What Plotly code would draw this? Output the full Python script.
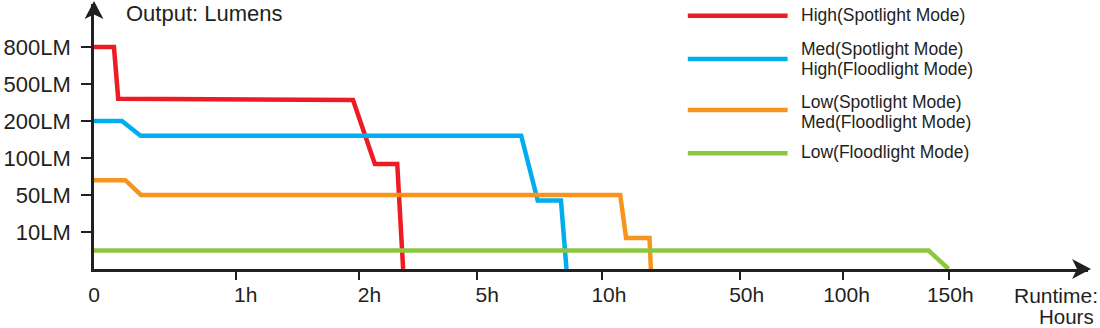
import numpy as np
import plotly.graph_objects as go

# ---------------- data ----------------
tick_hours = [0, 1, 2, 5, 10, 50, 100, 150]
tick_labels = ["0", "1h", "2h", "5h", "10h", "50h", "100h", "150h"]
lumen_ticks = [0, 10, 50, 100, 200, 500, 800]
lumen_labels = ["", "10LM", "50LM", "100LM", "200LM", "500LM", "800LM"]

series_names = [
    "High(Spotlight Mode)",
    "Med(Spotlight Mode)<br>High(Floodlight Mode)",
    "Low(Spotlight Mode)<br>Med(Floodlight Mode)",
    "Low(Floodlight Mode)",
]
high_hours = [0, 0.14, 0.17, 1.95, 2.4, 2.97, 3.12]
high_lumens = [800, 800, 380, 370, 92, 92, 0]
med_hours = [0, 0.196, 0.327, 6.77, 7.43, 8.36, 8.58]
med_lumens = [200, 200, 160, 160, 44, 44, 0]
low_hours = [0, 0.22, 0.33, 15.3, 17.0, 23.8, 24.2]
low_lumens = [70, 70, 50, 50, 8.4, 8.4, 0]
flood_low_hours = [0, 140.5, 150]
flood_low_lumens = [5, 5, 0]

# ---------------- scales (layout) ----------------
# non-uniform runtime axis: pixel-like positions of each tick
TICK_POS = [0, 142.7, 265.7, 383.7, 509, 647, 751, 856.3]
LABEL_POS = [0, 152, 276, 394, 516, 654, 754, 858]
LEVELS = list(range(len(lumen_ticks)))


def xmap(h):
    return np.interp(h, tick_hours, TICK_POS)


def ymap(lm):
    return np.interp(lm, lumen_ticks, LEVELS)


W, H = 1100, 328
ML, MR, MT, MB = 92, 12, 4, 59
PW = W - ML - MR
PH = H - MT - MB
LEVEL_PX = 37.0

colors = ["#ed1c24", "#00aeef", "#f7941d", "#8dc63f"]
dark = "#231f20"
FONT = "Liberation Sans, Arial, sans-serif"


def px(xp):
    return (xp - ML) / PW


def py(yp):
    return (H - MB - yp) / PH


fig = go.Figure()
all_series = [
    (high_hours, high_lumens),
    (med_hours, med_lumens),
    (low_hours, low_lumens),
    (flood_low_hours, flood_low_lumens),
]
for (hx, ly), name, c in zip(all_series, series_names, colors):
    fig.add_trace(go.Scatter(
        x=xmap(hx), y=ymap(ly), mode="lines", name=name,
        line=dict(color=c, width=4.5), showlegend=False,
        hoverinfo="skip",
    ))

# invisible trace to activate overlay axis for labels
fig.add_trace(go.Scatter(x=[0], y=[0], xaxis="x2", mode="markers",
                         marker=dict(opacity=0), showlegend=False, hoverinfo="skip"))

shapes = []
annotations = []

# axis arrow heads
shapes.append(dict(type="path", xref="paper", yref="paper",
                   path=f"M {px(1091)},{py(269)} L {px(1072)},{py(259)} L {px(1077)},{py(269)} L {px(1072)},{py(279)} Z",
                   fillcolor=dark, line=dict(width=0)))
shapes.append(dict(type="path", xref="paper", yref="paper",
                   path=f"M {px(92)},{py(1)} L {px(82.5)},{py(19)} L {px(92)},{py(14.5)} L {px(101.5)},{py(19)} Z",
                   fillcolor=dark, line=dict(width=0)))

# manual legend
legend_line_y = [15.7, 59, 110, 153.3]
legend_text = [
    [("High(Spotlight Mode)", 14.7)],
    [("Med(Spotlight Mode)", 49.3), ("High(Floodlight Mode)", 69.5)],
    [("Low(Spotlight Mode)", 101.7), ("Med(Floodlight Mode)", 122.3)],
    [("Low(Floodlight Mode)", 152.3)],
]
for ly, texts, c in zip(legend_line_y, legend_text, colors):
    shapes.append(dict(type="line", xref="paper", yref="paper",
                       x0=px(687), x1=px(787), y0=py(ly), y1=py(ly),
                       line=dict(color=c, width=4.5)))
    for t, ty in texts:
        annotations.append(dict(text=t, xref="paper", yref="paper",
                                x=px(798), y=py(ty), xanchor="left", yanchor="middle",
                                showarrow=False, font=dict(size=17.5, color=dark, family=FONT)))

annotations.append(dict(text="Output: Lumens", xref="paper", yref="paper",
                        x=px(122), y=py(14), xanchor="left", yanchor="middle",
                        showarrow=False, font=dict(size=22, color=dark, family=FONT)))
annotations.append(dict(text="Runtime:", xref="paper", yref="paper",
                        x=px(1100), y=py(295), xanchor="right", yanchor="middle",
                        showarrow=False, font=dict(size=21, color=dark, family=FONT)))
annotations.append(dict(text="Hours", xref="paper", yref="paper",
                        x=px(1096), y=py(316.5), xanchor="right", yanchor="middle",
                        showarrow=False, font=dict(size=20.5, color=dark, family=FONT)))

fig.update_layout(
    width=W, height=H,
    margin=dict(l=ML, r=MR, t=MT, b=MB),
    paper_bgcolor="white", plot_bgcolor="white",
    shapes=shapes, annotations=annotations,
    showlegend=False,
    xaxis=dict(range=[0, PW], showgrid=False, zeroline=False,
               showline=True, linecolor=dark, linewidth=2.5,
               tickmode="array", tickvals=TICK_POS[1:], ticktext=[""] * 7,
               ticks="outside", ticklen=8, tickwidth=2, tickcolor=dark,
               showticklabels=False, fixedrange=True),
    xaxis2=dict(range=[0, PW], overlaying="x", anchor="y", side="bottom",
                showgrid=False, zeroline=False, showline=False,
                tickmode="array", tickvals=LABEL_POS, ticktext=tick_labels,
                ticks="", ticklabelstandoff=11,
                tickfont=dict(size=21, color=dark, family=FONT)),
    yaxis=dict(range=[0, PH / LEVEL_PX], showgrid=False, zeroline=False,
               showline=True, linecolor=dark, linewidth=2.5,
               tickmode="array", tickvals=LEVELS[1:], ticktext=lumen_labels[1:],
               ticks="outside", ticklen=10, tickwidth=2, tickcolor=dark,
               ticklabelstandoff=6,
               tickfont=dict(size=22, color=dark, family=FONT)),
)

fig.write_html("out.html")
